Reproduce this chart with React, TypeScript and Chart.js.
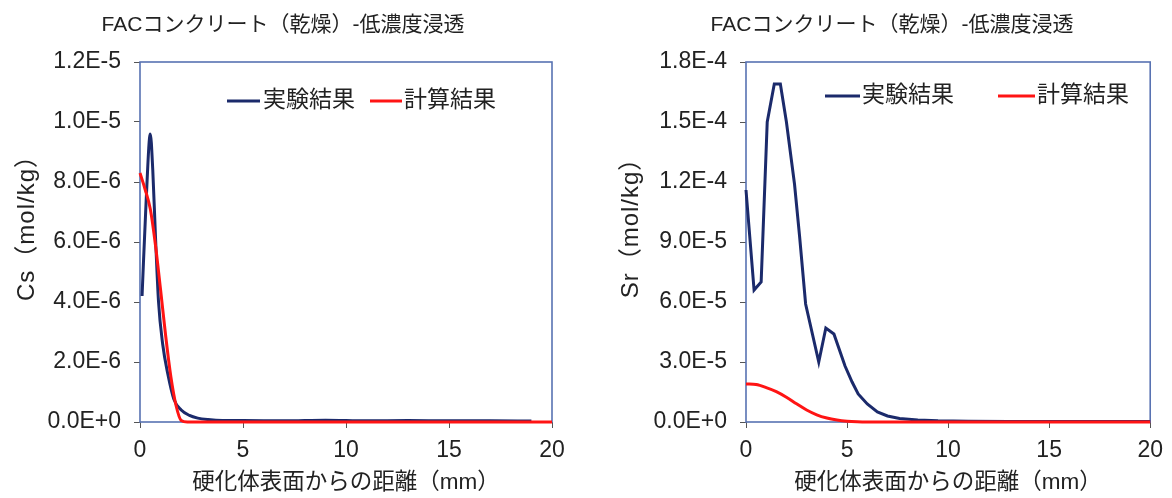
import React, { useEffect, useRef } from "react";
import { Chart, registerables } from "chart.js";

Chart.register(...registerables);

const FONT = "'Liberation Sans', 'Noto Sans CJK JP', Arial, sans-serif";
const TEXT = "#222222";
const BLUE = "#1b2a6b";
const RED = "#ff1414";
const FRAME = "#5872b2";

const CHART_TITLE = "FACコンクリート（乾燥）-低濃度浸透";
const X_TITLE = "硬化体表面からの距離（mm）";
const LEGEND_EXP = "実験結果";
const LEGEND_CALC = "計算結果";
const CS_Y_TITLE = "Cs（mol/kg）";
const SR_Y_TITLE = "Sr（mol/kg）";

const X_MIN = 0;
const X_MAX = 20;
const X_STEP = 5;

// Cs panel
const CS_Y_MAX = 1.2e-5;
const CS_Y_STEP = 2e-6;
const csExpX = [0.1, 0.3, 0.5, 0.62, 0.75, 0.9, 1.1, 1.35, 1.65, 2.0, 2.4, 2.8, 3.3, 4.0, 5, 7, 9, 11, 13, 15, 17, 19];
const csExpY = [4.2e-6, 7.4e-6, 9.6e-6, 8.4e-6, 6.2e-6, 4.0e-6, 2.6e-6, 1.6e-6, 0.75e-6, 0.4e-6, 0.22e-6, 0.13e-6, 0.08e-6, 0.05e-6, 0.05e-6, 0.04e-6, 0.06e-6, 0.04e-6, 0.05e-6, 0.04e-6, 0.04e-6, 0.03e-6];
const csCalcX = [0, 0.25, 0.5, 0.75, 1.0, 1.25, 1.5, 1.75, 2.0, 2.3, 20];
const csCalcY = [8.3e-6, 7.75e-6, 7.1e-6, 5.9e-6, 4.4e-6, 2.85e-6, 1.5e-6, 0.55e-6, 0.05e-6, 0, 0];

// Sr panel
const SR_Y_MAX = 1.8e-4;
const SR_Y_STEP = 3e-5;
const srExpX = [0, 0.4, 0.75, 1.05, 1.4, 1.7, 2.0, 2.4, 2.65, 2.95, 3.6, 3.95, 4.35, 4.9, 5.25, 5.55, 6.0, 6.5, 7.0, 7.6, 8.5, 9.5, 11, 13, 15, 17, 20];
const srExpY = [116e-6, 66e-6, 70e-6, 150e-6, 169e-6, 169e-6, 150e-6, 119e-6, 93e-6, 59e-6, 30e-6, 47e-6, 44e-6, 28e-6, 20e-6, 14e-6, 9e-6, 5e-6, 3e-6, 1.8e-6, 1.0e-6, 0.6e-6, 0.4e-6, 0.3e-6, 0.3e-6, 0.2e-6, 0.2e-6];
const srCalcX = [0, 0.5, 1.0, 1.5, 2.0, 2.5, 3.0, 3.5, 4.0, 4.5, 5.0, 5.5, 6.0, 20];
const srCalcY = [19e-6, 18.7e-6, 17.2e-6, 15.2e-6, 12.4e-6, 9.1e-6, 6.0e-6, 3.6e-6, 2.0e-6, 1.0e-6, 0.4e-6, 0.1e-6, 0, 0];

type Layout = {
  leftWidth: number;
  padRight: number;
  titleX: number;
  yTitleX: number;
  yTitleY: number;
  legendY: number;
  blueLine: [number, number];
  blueText: number;
  redLine: [number, number];
  redText: number;
};

type Panel = {
  yTitle: string;
  yMax: number;
  yStep: number;
  expX: number[];
  expY: number[];
  calcX: number[];
  calcY: number[];
  expMode: "monotone" | "linear";
  layout: Layout;
};

const W = 586;
const H = 498;

function overlayPlugin(p: Panel) {
  const L = p.layout;
  return {
    id: "overlay",
    beforeDatasetsDraw(chart: any) {
      const { ctx, chartArea: a } = chart;
      ctx.save();
      ctx.strokeStyle = FRAME;
      ctx.lineWidth = 1.6;
      ctx.strokeRect(a.left, a.top, a.right - a.left, a.bottom - a.top);
      ctx.restore();
    },
    afterDraw(chart: any) {
      const ctx = chart.ctx as CanvasRenderingContext2D;
      ctx.save();
      ctx.fillStyle = TEXT;
      ctx.textBaseline = "middle";
      ctx.textAlign = "center";
      ctx.font = `21px ${FONT}`;
      ctx.fillText(CHART_TITLE, L.titleX, 25);

      ctx.save();
      ctx.translate(L.yTitleX, L.yTitleY);
      ctx.rotate(-Math.PI / 2);
      ctx.font = `24px ${FONT}`;
      try {
        (ctx as any).letterSpacing = "1px";
      } catch (e) {}
      ctx.fillText(p.yTitle, 0, 0);
      try {
        (ctx as any).letterSpacing = "0px";
      } catch (e) {}
      ctx.restore();

      ctx.lineWidth = 3;
      ctx.strokeStyle = BLUE;
      ctx.beginPath();
      ctx.moveTo(L.blueLine[0], L.legendY);
      ctx.lineTo(L.blueLine[1], L.legendY);
      ctx.stroke();
      ctx.strokeStyle = RED;
      ctx.beginPath();
      ctx.moveTo(L.redLine[0], L.legendY);
      ctx.lineTo(L.redLine[1], L.legendY);
      ctx.stroke();

      ctx.textAlign = "left";
      ctx.font = `23px ${FONT}`;
      ctx.fillText(LEGEND_EXP, L.blueText, L.legendY);
      ctx.fillText(LEGEND_CALC, L.redText, L.legendY);
      ctx.restore();
    },
  };
}

function pts(xs: number[], ys: number[]) {
  return xs.map((x, i) => ({ x, y: ys[i] }));
}

function buildChart(canvas: HTMLCanvasElement, p: Panel) {
  const L = p.layout;
  return new Chart(canvas, {
    type: "line",
    data: {
      datasets: [
        {
          label: LEGEND_EXP,
          data: pts(p.expX, p.expY),
          borderColor: BLUE,
          borderWidth: 3,
          pointRadius: 0,
          fill: false,
          cubicInterpolationMode: p.expMode === "monotone" ? "monotone" : "default",
          tension: 0,
          clip: false as any,
          order: 1,
        },
        {
          label: LEGEND_CALC,
          data: pts(p.calcX, p.calcY),
          borderColor: RED,
          borderWidth: 3,
          pointRadius: 0,
          fill: false,
          cubicInterpolationMode: "monotone",
          clip: false as any,
          order: 0,
        },
      ],
    },
    options: {
      animation: false,
      responsive: false,
      devicePixelRatio: 1,
      layout: { padding: { left: 0, right: L.padRight, top: 62, bottom: 0 } },
      plugins: {
        legend: { display: false },
        tooltip: { enabled: false },
        title: { display: false },
      },
      scales: {
        x: {
          type: "linear",
          min: X_MIN,
          max: X_MAX,
          afterFit: (s: any) => {
            s.height = 76;
          },
          ticks: {
            stepSize: X_STEP,
            color: TEXT,
            font: { family: FONT, size: 23 },
            padding: 9,
            maxRotation: 0,
          },
          grid: { drawOnChartArea: false, drawTicks: true, tickLength: 6, color: "#555555" },
          border: { display: false },
          title: {
            display: true,
            text: X_TITLE,
            color: TEXT,
            font: { family: FONT, size: 22.5 },
            padding: { top: 0, bottom: 2 },
          },
        },
        y: {
          type: "linear",
          min: 0,
          max: p.yMax,
          afterFit: (s: any) => {
            s.width = L.leftWidth;
          },
          ticks: {
            stepSize: p.yStep,
            color: TEXT,
            font: { family: FONT, size: 23 },
            padding: 13,
            callback: (v: any) => Number(v).toExponential(1).replace("e", "E"),
          },
          grid: { drawOnChartArea: false, drawTicks: true, tickLength: 6, color: "#555555" },
          border: { display: false },
        },
      },
    },
    plugins: [overlayPlugin(p)],
  } as any);
}

const csPanel: Panel = {
  yTitle: CS_Y_TITLE,
  yMax: CS_Y_MAX,
  yStep: CS_Y_STEP,
  expX: csExpX,
  expY: csExpY,
  calcX: csCalcX,
  calcY: csCalcY,
  expMode: "monotone",
  layout: {
    leftWidth: 140,
    padRight: 34,
    titleX: 283,
    yTitleX: 27,
    yTitleY: 222,
    legendY: 101,
    blueLine: [227, 260],
    blueText: 263,
    redLine: [370, 402],
    redText: 404,
  },
};

const srPanel: Panel = {
  yTitle: SR_Y_TITLE,
  yMax: SR_Y_MAX,
  yStep: SR_Y_STEP,
  expX: srExpX,
  expY: srExpY,
  calcX: srCalcX,
  calcY: srCalcY,
  expMode: "linear",
  layout: {
    leftWidth: 160,
    padRight: 16,
    titleX: 306,
    yTitleX: 45,
    yTitleY: 222,
    legendY: 96,
    blueLine: [239, 274],
    blueText: 276,
    redLine: [412, 449],
    redText: 451,
  },
};

function ChartPanel({ panel, left }: { panel: Panel; left: number }) {
  const ref = useRef<HTMLCanvasElement | null>(null);
  useEffect(() => {
    if (!ref.current) return;
    const c = buildChart(ref.current, panel);
    return () => c.destroy();
  }, [panel]);
  return (
    <canvas
      ref={ref}
      width={W}
      height={H}
      style={{ position: "absolute", left, top: 0, width: W, height: H, display: "block" }}
    />
  );
}

export default function App() {
  useEffect(() => {
    document.body.style.margin = "0";
    document.body.style.background = "#ffffff";
  }, []);
  return (
    <div style={{ position: "fixed", left: 0, top: 0, width: 1172, height: 498, background: "#ffffff" }}>
      <ChartPanel panel={csPanel} left={0} />
      <ChartPanel panel={srPanel} left={586} />
    </div>
  );
}
